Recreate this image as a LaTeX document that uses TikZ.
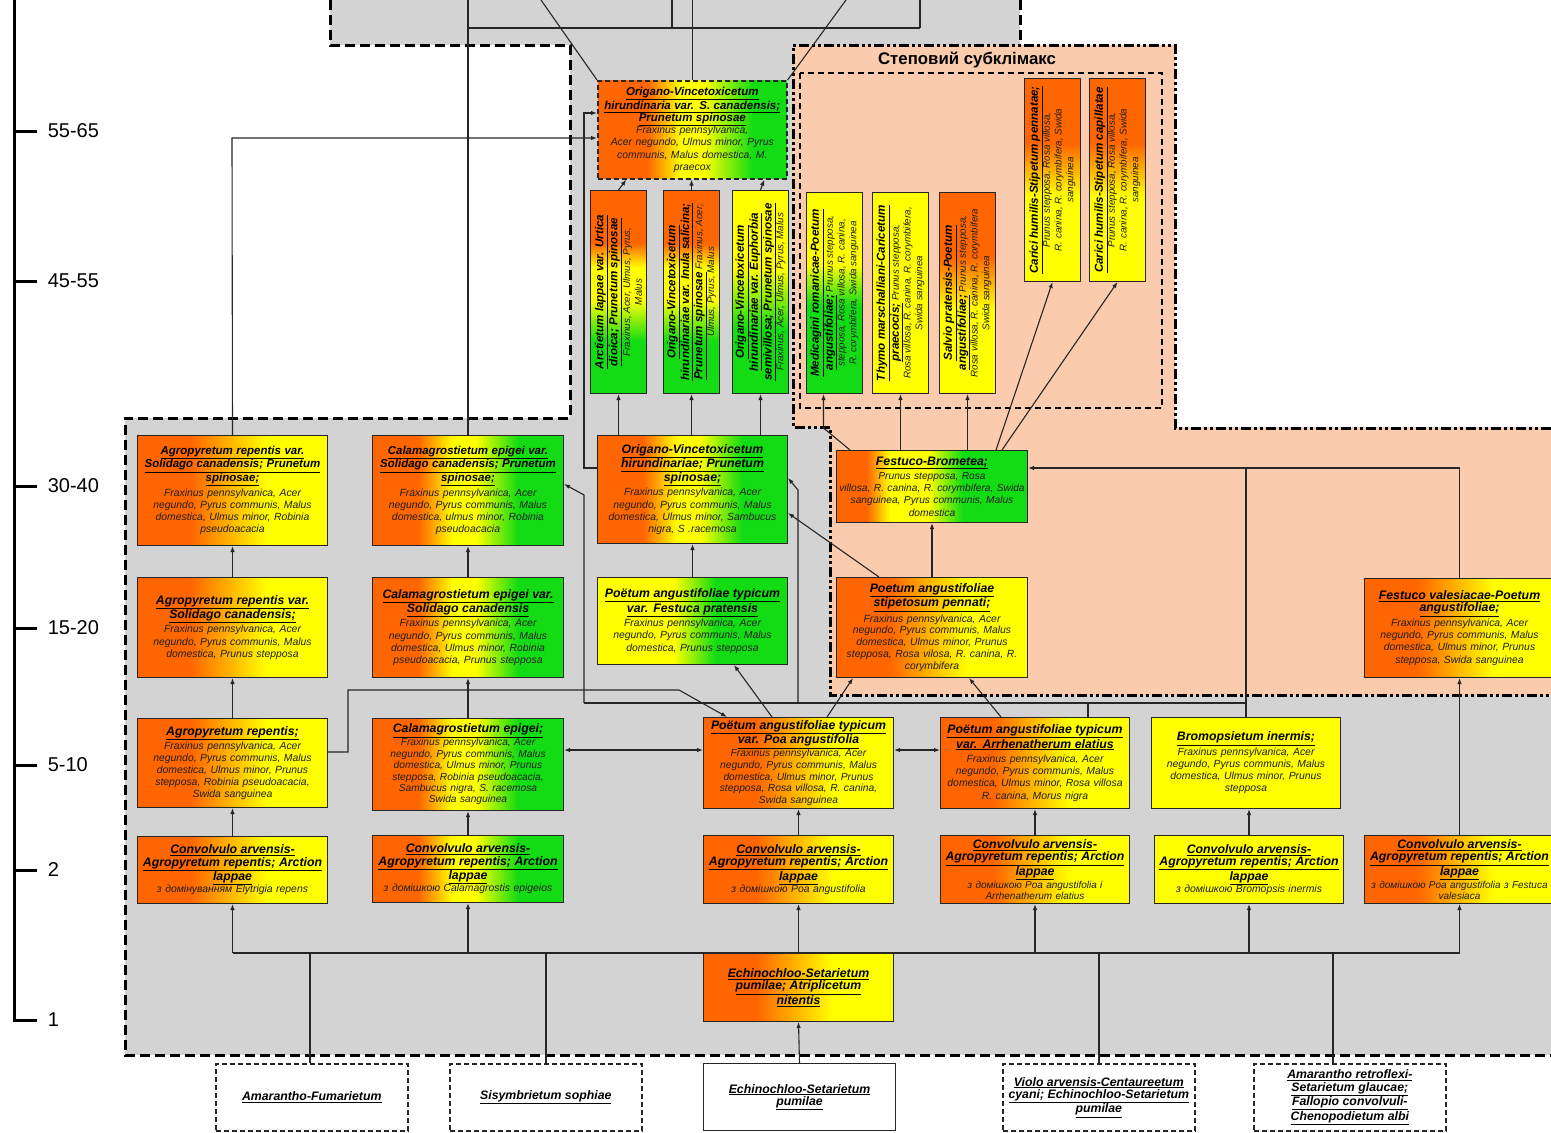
\documentclass[tikz,border=0pt]{standalone}
\usepackage{fontspec}
\setmainfont{Liberation Sans}
\usepackage{graphicx}
\usetikzlibrary{arrows.meta,calc}

\definecolor{orng}{RGB}{255,102,0}
\definecolor{yel}{RGB}{255,255,0}
\definecolor{grn}{RGB}{20,220,20}
\definecolor{gry}{RGB}{211,211,211}
\definecolor{peach}{RGB}{251,203,173}

% gradients of the boxes (path = 25bp..75bp)
\pgfdeclarehorizontalshading{oy}{100bp}{color(0bp)=(orng); color(39bp)=(orng); color(59bp)=(yel); color(100bp)=(yel)}
\pgfdeclarehorizontalshading{oyg}{100bp}{color(0bp)=(orng); color(37bp)=(orng); color(46bp)=(yel); color(52bp)=(yel); color(63bp)=(grn); color(100bp)=(grn)}
\pgfdeclarehorizontalshading{oygT}{100bp}{color(0bp)=(orng); color(38bp)=(orng); color(47bp)=(yel); color(53bp)=(yel); color(66bp)=(grn); color(100bp)=(grn)}
\pgfdeclarehorizontalshading{oygB}{100bp}{color(0bp)=(orng); color(33bp)=(orng); color(39bp)=(yel); color(49bp)=(yel); color(58bp)=(grn); color(100bp)=(grn)}
\pgfdeclarehorizontalshading{yg}{100bp}{color(0bp)=(yel); color(45bp)=(yel); color(56bp)=(grn); color(100bp)=(grn)}
\pgfdeclareverticalshading{vogy}{100bp}{color(0bp)=(grn); color(38bp)=(grn); color(48bp)=(yel); color(56bp)=(yel); color(62bp)=(orng); color(100bp)=(orng)}
\pgfdeclareverticalshading{vyg}{100bp}{color(0bp)=(grn); color(41bp)=(grn); color(56bp)=(yel); color(100bp)=(yel)}
\pgfdeclareverticalshading{vygM}{100bp}{color(0bp)=(grn); color(47bp)=(grn); color(57bp)=(yel); color(100bp)=(yel)}
\pgfdeclareverticalshading{vyo}{100bp}{color(0bp)=(yel); color(46bp)=(yel); color(59bp)=(orng); color(100bp)=(orng)}

\newcommand{\syntsz}{12.3}
\newcommand{\synt}[1]{{\fontsize{\syntsz}{12.5}\selectfont\bfseries\itshape\underline{#1}}}
\newcommand{\spp}[1]{{\itshape\color{black!88}#1}}
\newcommand{\convTitle}{\synt{Convolvulo arvensis-}\\\synt{Agropyretum repentis; Arction}\\\synt{lappae}\\}
\newcommand{\upright}[1]{\rotatebox{90}{\parbox{196pt}{\centering\fontsize{9.8}{11.8}\selectfont\renewcommand{\syntsz}{11.6}#1}}}

\begin{document}
\begin{tikzpicture}[x=1pt,y=-1pt,
  box/.style={draw=black!85, line width=1pt, anchor=north west, inner sep=1.5pt, align=center,
    text width=186pt, font=\fontsize{10.4}{12.3}\selectfont},
  sm/.style={font=\renewcommand{\syntsz}{11.5}\fontsize{10.4}{12.3}\selectfont},
  sz/.style 2 args={minimum width=#1, minimum height=#2},
  vbox/.style={draw=black!85, line width=1pt, anchor=north west, inner sep=0pt, sz={56}{203}},
  low/.style={box, fill=white, line width=1.6pt, dash pattern=on 5pt off 3pt, sz={192}{67}},
  ln/.style={draw=black!85, line width=1.1pt},
  arr/.style={ln, -{Latex[length=6pt,width=4.5pt]}},
  dbl/.style={ln, {Latex[length=6pt,width=4.5pt]}-{Latex[length=6pt,width=4.5pt]}},
  zone/.style={line width=3pt, dash pattern=on 10pt off 5pt},
  stepzone/.style={line width=3pt, dash pattern=on 10pt off 3pt on 3pt off 3pt on 3pt off 3pt}]

\useasboundingbox (0,0) rectangle (1551,1133);
\clip (0,0) rectangle (1551,1133);

% zones
\fill[gry] (330,0) rectangle (1020,45);
\fill[gry] (570,40) rectangle (795,425);
\fill[gry] (125,418) rectangle (795,1055);
\fill[gry] (795,427) rectangle (1551,1055);
\fill[peach] (793,45) -- (1175,45) -- (1175,428) -- (1551,428) -- (1551,695) -- (830,695) -- (830,427) -- (793,427) -- cycle;
\draw[zone] (330,0) -- (330,45) -- (570,45) -- (570,418) -- (125,418) -- (125,1055) -- (1551,1055);
\draw[zone] (1020,0) -- (1020,45);
\draw[stepzone] (1551,428) -- (1175,428) -- (1175,45) -- (793,45) -- (793,427) -- (830,427) -- (830,695) -- (1551,695);
\draw[line width=2pt, dash pattern=on 6pt off 4pt] (800,73) rectangle (1162,408);
\node[font=\bfseries\fontsize{16.8}{19}\selectfont] (stepTtl) at (967,60) {Степовий субклімакс};

% scale
\draw[line width=3pt] (14,0) -- (14,1020);
\foreach \y/\lab in {131/55-65,281/45-55,486/30-40,628/15-20,765/5-10,870/2,1020/1}
  \draw[line width=3pt] (12.5,\y) -- (37,\y) node[right=6pt, font=\fontsize{20}{24}\selectfont] (lab\y) {\lab};

% 55-65
\node[box, sm, sz={189}{98}, shading=oygT, line width=1.6pt, dash pattern=on 5pt off 3pt] (topOrig) at (597,80)
  {\synt{Origano-Vincetoxicetum}\\\synt{hirundinaria var. S. canadensis;}\\\synt{Prunetum spinosae}\\
   \spp{Fraxinus pennsylvanica,}\\\spp{Acer negundo, Ulmus minor, Pyrus}\\\spp{communis, Malus domestica, M.}\\\spp{praecox}};

% 45-55
\node[vbox, shading=vogy] (arct) at (590,190) {\upright{\synt{Arctietum lappae var. Urtica}\\\synt{dioica; Prunetum spinosae}\\[1pt]\spp{Fraxinus, Acer, Ulmus, Pyrus,}\\\spp{Malus}}};
\node[vbox, shading=vogy] (inul) at (663,190) {\upright{\synt{Origano-Vincetoxicetum}\\\synt{hirundinariae var. Inula salicina;}\\\synt{Prunetum spinosae} \spp{Fraxinus, Acer,}\\\spp{Ulmus, Pyrus, Malus}}};
\node[vbox, shading=vyg] (euph) at (732,190) {\upright{\synt{Origano-Vincetoxicetum}\\\synt{hirundinariae var. Euphorbia}\\\synt{semivillosa; Prunetum spinosae}\\\spp{Fraxinus, Acer, Ulmus, Pyrus, Malus}}};
\node[vbox, shading=vygM, sz={56}{201}] (medic) at (806,192) {\upright{\synt{Medicagini romanicae-Poetum}\\\synt{angustifoliae;} \spp{Prunus stepposa,}\\\spp{stepposa, Rosa villosa, R. canina,}\\\spp{R. corymbifera, Swida sanguinea}}};
\node[vbox, fill=yel, sz={56}{201}] (thymo) at (872,192) {\upright{\synt{Thymo marschalliani-Caricetum}\\\synt{praecocis;} \spp{Prunus stepposa,}\\\spp{Rosa villosa, R. canina, R. corymbifera,}\\\spp{Swida sanguinea}}};
\node[vbox, shading=vyo, sz={56}{201}] (salvio) at (939,192) {\upright{\synt{Salvio pratensis-Poetum}\\\synt{angustifoliae;} \spp{Prunus stepposa,}\\\spp{Rosa villosa, R. canina, R. corymbifera}\\\spp{Swida sanguinea}}};
\node[vbox, shading=vyo] (cariP) at (1024,78) {\upright{\synt{Carici humilis-Stipetum pennatae;}\\\spp{Prunus stepposa, Rosa villosa,}\\\spp{R. canina, R. corymbifera, Swida}\\\spp{sanguinea}}};
\node[vbox, shading=vyo] (cariC) at (1089,78) {\upright{\synt{Carici humilis-Stipetum capillatae}\\\spp{Prunus stepposa, Rosa villosa,}\\\spp{R. canina, R. corymbifera, Swida}\\\spp{sanguinea}}};

% 30-40
\node[box, sm, sz={190}{110}, shading=oy] (agrSP) at (137,435)
  {\synt{Agropyretum repentis var.}\\\synt{Solidago canadensis; Prunetum}\\\synt{spinosae;}\\[2pt]
   \spp{Fraxinus pennsylvanica, Acer}\\\spp{negundo, Pyrus communis, Malus}\\\spp{domestica, Ulmus minor, Robinia}\\\spp{pseudoacacia}};
\node[box, sm, sz={191}{110}, shading=oyg] (calSP) at (372,435)
  {\synt{Calamagrostietum epigei var.}\\\synt{Solidago canadensis; Prunetum}\\\synt{spinosae;}\\[2pt]
   \spp{Fraxinus pennsylvanica, Acer}\\\spp{negundo, Pyrus communis, Malus}\\\spp{domestica, ulmus minor, Robinia}\\\spp{pseudoacacia}};
\node[box, sz={190}{108}, shading=oyg] (origH) at (597,435)
  {\synt{Origano-Vincetoxicetum}\\\synt{hirundinariae; Prunetum}\\\synt{spinosae;}\\[2pt]
   \spp{Fraxinus pennsylvanica, Acer}\\\spp{negundo, Pyrus communis, Malus}\\\spp{domestica, Ulmus minor, Sambucus}\\\spp{nigra, S .racemosa}};
\node[box, sz={191}{72}, shading=oygB, font=\fontsize{10.2}{12.3}\selectfont] (festBr) at (836,450)
  {\synt{Festuco-Brometea;}\\[2pt]
   \spp{Prunus stepposa, Rosa}\\\spp{villosa, R. canina, R. corymbifera, Swida}\\\spp{sanguinea, Pyrus communis, Malus}\\\spp{domestica}};

% 15-20
\node[box, sz={190}{100}, shading=oy] (agrS) at (137,577)
  {\synt{Agropyretum repentis var.}\\\synt{Solidago canadensis;}\\[2pt]
   \spp{Fraxinus pennsylvanica, Acer}\\\spp{negundo, Pyrus communis, Malus}\\\spp{domestica, Prunus stepposa}};
\node[box, sz={191}{100}, shading=oyg] (calS) at (372,577)
  {\synt{Calamagrostietum epigei var.}\\\synt{Solidago canadensis}\\[2pt]
   \spp{Fraxinus pennsylvanica, Acer}\\\spp{negundo, Pyrus communis, Malus}\\\spp{domestica, Ulmus minor, Robinia}\\\spp{pseudoacacia, Prunus stepposa}};
\node[box, sz={190}{87}, shading=yg] (poeFest) at (597,577)
  {\synt{Poëtum angustifoliae typicum}\\\synt{var. Festuca pratensis}\\[2pt]
   \spp{Fraxinus pennsylvanica, Acer}\\\spp{negundo, Pyrus communis, Malus}\\\spp{domestica, Prunus stepposa}};
\node[box, sz={191}{100}, shading=oy, font=\fontsize{10.4}{11.8}\selectfont] (poeStip) at (836,577)
  {\synt{Poetum angustifoliae}\\\synt{stipetosum pennati;}\\[2pt]
   \spp{Fraxinus pennsylvanica, Acer}\\\spp{negundo, Pyrus communis, Malus}\\\spp{domestica, Ulmus minor, Prunus}\\\spp{stepposa, Rosa vilosa, R. canina, R.}\\\spp{corymbifera}};
\node[box, sz={190}{99}, shading=oy] (festVal) at (1364,578)
  {\synt{Festuco valesiacae-Poetum}\\\synt{angustifoliae;}\\[2pt]
   \spp{Fraxinus pennsylvanica, Acer}\\\spp{negundo, Pyrus communis, Malus}\\\spp{domestica, Ulmus minor, Prunus}\\\spp{stepposa, Swida sanguinea}};

% 5-10
\node[box, sz={190}{89}, shading=oy, font=\fontsize{10.4}{11.8}\selectfont] (agrR) at (137,718)
  {\synt{Agropyretum repentis;}\\[1pt]
   \spp{Fraxinus pennsylvanica, Acer}\\\spp{negundo, Pyrus communis, Malus}\\\spp{domestica, Ulmus minor, Prunus}\\\spp{stepposa, Robinia pseudoacacia,}\\\spp{Swida sanguinea}};
\node[box, sz={191}{92}, shading=oyg, font=\fontsize{10.2}{11.4}\selectfont] (calE) at (372,718)
  {\synt{Calamagrostietum epigei;}\\
   \spp{Fraxinus pennsylvanica, Acer}\\\spp{negundo, Pyrus communis, Malus}\\\spp{domestica, Ulmus minor, Prunus}\\\spp{stepposa, Robinia pseudoacacia,}\\\spp{Sambucus nigra, S. racemosa}\\\spp{Swida sanguinea}};
\node[box, sz={190}{91}, shading=oy, font=\fontsize{10.3}{11.6}\selectfont] (poePoa) at (703,717)
  {\synt{Poëtum angustifoliae typicum}\\\synt{var. Poa angustifolia}\\
   \spp{Fraxinus pennsylvanica, Acer}\\\spp{negundo, Pyrus communis, Malus}\\\spp{domestica, Ulmus minor, Prunus}\\\spp{stepposa, Rosa villosa, R. canina,}\\\spp{Swida sanguinea}};
\node[box, sz={188}{91}, shading=oy] (poeArr) at (940,717)
  {\synt{Poëtum angustifoliae typicum}\\\synt{var. Arrhenatherum elatius}\\[2pt]
   \spp{Fraxinus pennsylvanica, Acer}\\\spp{negundo, Pyrus communis, Malus}\\\spp{domestica, Ulmus minor, Rosa villosa}\\\spp{R. canina, Morus nigra}};
\node[box, sz={189}{91}, fill=yel] (bromIn) at (1151,717)
  {\synt{Bromopsietum inermis;}\\[2pt]
   \spp{Fraxinus pennsylvanica, Acer}\\\spp{negundo, Pyrus communis, Malus}\\\spp{domestica, Ulmus minor, Prunus}\\\spp{stepposa}};

% 2
\node[box, sz={190}{67}, shading=oy] (conAgr) at (137,836) {\convTitle\spp{з домінуванням Elytrigia repens}};
\node[box, sz={191}{67}, shading=oyg] (conCal) at (372,835) {\convTitle\spp{з домішкою Calamagrostis epigeios}};
\node[box, sz={190}{68}, shading=oy] (conPoa) at (703,835) {\convTitle\spp{з домішкою Poa angustifolia}};
\node[box, sz={188}{68}, shading=oy, font=\fontsize{10}{11}\selectfont] (conArr) at (940,835) {\convTitle\spp{з домішкою Poa angustifolia і}\\\spp{Arrhenatherum elatius}};
\node[box, sz={188}{68}, fill=yel] (conBrom) at (1154,835) {\convTitle\spp{з домішкою Bromopsis inermis}};
\node[box, sz={190}{68}, shading=oy, font=\fontsize{10}{11}\selectfont] (conFest) at (1364,835) {\convTitle\spp{з домішкою Poa angustifolia з Festuca}\\\spp{valesiaca}};

% 1
\node[box, sz={190}{68}, shading=oy] (echAtr) at (703,953)
  {\synt{Echinochloo-Setarietum}\\\synt{pumilae; Atriplicetum}\\\synt{nitentis}};

% arable fields
\node[low] (amFum) at (215,1063) {\synt{Amarantho-Fumarietum}};
\node[low] (sisSoph) at (449,1063) {\synt{Sisymbrietum sophiae}};
\node[low, line width=1pt, dash pattern=] (echSet) at (703,1063) {\synt{Echinochloo-Setarietum}\\\synt{pumilae}};
\node[low] (violo) at (1002,1063) {\synt{Violo arvensis-Centaureetum}\\\synt{cyani; Echinochloo-Setarietum}\\\synt{pumilae}};
\node[low] (amRetr) at (1253,1063) {\synt{Amarantho retroflexi-}\\\synt{Setarietum glaucae;}\\\synt{Fallopio convolvuli-}\\\synt{Chenopodietum albi}};

% links at the bottom
\draw[ln] (conAgr.south |- echAtr.north) -- (conFest.south |- echAtr.north);
\foreach \n in {conAgr,conCal,conPoa,conArr,conBrom,conFest}
  \draw[arr] (\n.south |- echAtr.north) -- (\n.south);
\foreach \n/\x in {amFum/310,sisSoph/546,violo/1099,amRetr/1333}
  \draw[ln] (\n.north -| \x,0) -- (\x,953);
\draw[arr] (echSet.north) -- (echAtr.south);

% links upwards
\foreach \a/\b in {conAgr/agrR,conCal/calE,conPoa/poePoa,conArr/poeArr,conBrom/bromIn,conFest/festVal,
                   agrR/agrS,calE/calS,agrS/agrSP,calS/calSP,poeFest/origH,poeStip/festBr}
  \draw[arr] (\a.north) -- (\a.north |- \b.south);
\draw[dbl] (calE.east |- 0,750) -- (poePoa.west |- 0,750);
\draw[dbl] (poePoa.east |- 0,750) -- (poeArr.west |- 0,750);
\draw[arr] (agrR.east |- 0,752) -- (348,752) -- (348,690) -- (679,690) -- ([xshift=24pt]poePoa.north west);
\draw[arr] ([xshift=69pt]poePoa.north west) -- ([xshift=137pt]poeFest.south west);
\draw[arr] ([xshift=124pt]poePoa.north west) -- ([xshift=17pt]poeStip.south west);
\draw[arr] ([xshift=61pt]poeArr.north west) -- ([xshift=133pt]poeStip.south west);
\draw[arr] ([xshift=43pt]poeStip.north west) -- (origH.east |- 0,513);
\draw[ln] (584,703) -- (bromIn.north |- 0,703);
\draw[ln] (poeArr.north -| 1088,0) -- (1088,703);
\draw[arr] (584,703) -- (584,495) -- (calSP.east |- 0,484);
\draw[arr] (798,703) -- (798,490) -- (origH.east |- 0,478);
\draw[ln] (bromIn.north) -- (bromIn.north |- 0,468);
\draw[arr] (festVal.north) -- (festVal.north |- 0,468) -- (festBr.east |- 0,468);

% into the steppe
\draw[arr] ([xshift=14pt]festBr.north west) -- ([xshift=-11pt]medic.south |- 0,428) -- ([xshift=-11pt]medic.south);
\draw[arr] (thymo.south |- festBr.north) -- (thymo.south);
\draw[arr] (salvio.south |- festBr.north) -- (salvio.south);
\draw[arr] ([xshift=160pt]festBr.north west) -- (cariP.south);
\draw[arr] ([xshift=166pt]festBr.north west) -- (cariC.south);

% column to the top
\foreach \n in {arct,inul,euph}
  \draw[arr] (\n.south |- origH.north) -- (\n.south);
\draw[arr] (arct.north) -- ([xshift=-66pt]topOrig.south);
\draw[arr] (inul.north) -- (inul.north |- topOrig.south);
\draw[arr] (euph.north) -- ([xshift=72pt]topOrig.south);
\draw[arr] (origH.west |- 0,468) -- (584,468) -- (584,113) -- (topOrig.west |- 0,113);
\draw[arr] (agrSP.north) -- (232,138) -- (topOrig.west |- 0,138);

% above the picture
\coordinate (upA) at (541,0);
\coordinate (upB) at (846,0);
\draw[ln] (topOrig.north west) -- (upA);
\draw[ln] (topOrig.north east) -- (upB);
\draw[ln] (topOrig.north) -- (topOrig.north |- upA);
\draw[ln] (calSP.north) -- (calSP.north |- upA);
\draw[ln] (calSP.north |- 0,28) -- (920,28);
\draw[ln] (672,0) -- (672,28);
\draw[ln] (920,0) -- (920,28);
\end{tikzpicture}
\end{document}
